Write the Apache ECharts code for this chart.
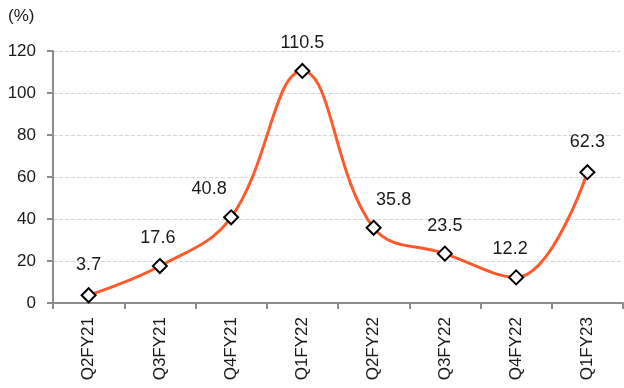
<!DOCTYPE html>
<html>
<head>
<meta charset="utf-8">
<script src="https://cdn.jsdelivr.net/npm/echarts@6/dist/echarts.min.js"></script>
<style>
  html, body { margin: 0; padding: 0; background: #fff; }
  #chart { width: 624px; height: 388px; }
</style>
</head>
<body>
<div id="chart"></div>
<script>
var quarters = ['Q2FY21', 'Q3FY21', 'Q4FY21', 'Q1FY22', 'Q2FY22', 'Q3FY22', 'Q4FY22', 'Q1FY23'];
var growth = [3.7, 17.6, 40.8, 110.5, 35.8, 23.5, 12.2, 62.3];

// label nudges so the numbers clear the curve
var labelShift = [[0, 0], [-2, 2], [-22, 2], [0, 2], [20, 2], [0, 2], [-6, 2], [0, 0]];

var chart = echarts.init(document.getElementById('chart'));
var font = '"Liberation Sans", Arial, sans-serif';

chart.setOption({
  animation: false,
  grid: { left: 53, right: 1, top: 51, bottom: 85, outerBoundsMode: 'none' },
  graphic: [{
    type: 'text', left: 8, top: 8,
    style: { text: '(%)', font: '17px ' + font, fill: '#1a1a1a' }
  }],
  xAxis: {
    type: 'category',
    data: quarters,
    boundaryGap: true,
    axisLine: { lineStyle: { color: '#8c8c8c', width: 2 } },
    axisTick: { show: true, length: 6, alignWithLabel: false, lineStyle: { color: '#8c8c8c', width: 2 } },
    axisLabel: { rotate: 90, margin: 14, color: '#1a1a1a', fontSize: 17, fontFamily: font }
  },
  yAxis: {
    type: 'value',
    min: 0, max: 120, interval: 20,
    axisLine: { show: true, lineStyle: { color: '#8c8c8c', width: 2 } },
    axisTick: { show: true, length: 6, lineStyle: { color: '#8c8c8c', width: 2 } },
    axisLabel: { margin: 17, color: '#1a1a1a', fontSize: 17, fontFamily: font },
    splitLine: { show: true, lineStyle: { color: '#d6d6d6', type: 'dashed', width: 1 } }
  },
  series: [{
    type: 'line',
    smooth: 0.4,
    data: growth.map(function (v, i) {
      return { value: v, label: { offset: labelShift[i] } };
    }),
    symbol: 'diamond',
    symbolSize: 14,
    lineStyle: { color: '#ff5a2c', width: 3 },
    itemStyle: { color: '#ffffff', borderColor: '#000000', borderWidth: 2 },
    label: {
      show: true, position: 'top', distance: 13,
      color: '#1a1a1a', fontSize: 18, fontFamily: font
    },
    z: 3
  }]
});
</script>
</body>
</html>
